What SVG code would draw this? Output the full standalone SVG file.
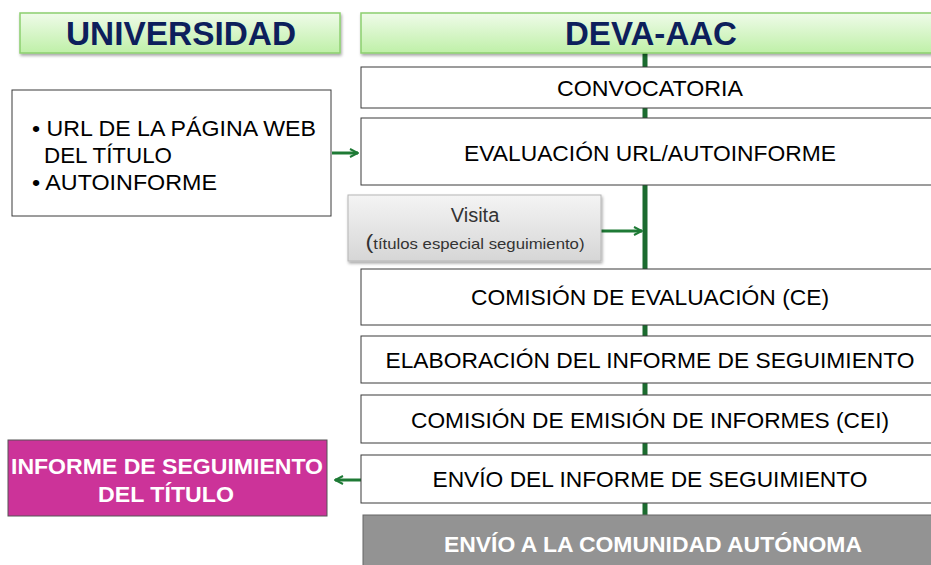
<svg xmlns="http://www.w3.org/2000/svg" width="931" height="565" viewBox="0 0 931 565">
<defs>
<linearGradient id="gHead" x1="0" y1="0" x2="0" y2="1">
<stop offset="0" stop-color="#effbe9"/>
<stop offset="1" stop-color="#bff0a8"/>
</linearGradient>
<linearGradient id="gGray" x1="0" y1="0" x2="0" y2="1">
<stop offset="0" stop-color="#f4f4f4"/>
<stop offset="1" stop-color="#d6d6d6"/>
</linearGradient>
<filter id="sh" x="-10%" y="-10%" width="120%" height="130%">
<feDropShadow dx="1" dy="2" stdDeviation="1.5" flood-color="#000" flood-opacity="0.35"/>
</filter>
<marker id="ah" viewBox="0 0 10 10" refX="9" refY="5" markerWidth="10" markerHeight="10" markerUnits="userSpaceOnUse" orient="auto">
<path d="M1,1 L9,5 L1,9" fill="none" stroke="#1e7a35" stroke-width="2"/>
</marker>
<style>
.box{fill:#fff;stroke:#3a3a3a;stroke-width:1}
.head{fill:url(#gHead);stroke:#8ccf6f;stroke-width:1.5}
.t{font-family:"Liberation Sans",Arial,sans-serif;font-size:22px;fill:#000;text-anchor:middle}
.h{font-family:"Liberation Sans",Arial,sans-serif;font-size:34px;font-weight:bold;fill:#0d1f5c;text-anchor:middle}
.w{font-family:"Liberation Sans",Arial,sans-serif;font-size:22px;font-weight:bold;fill:#fff;text-anchor:middle}
.l{font-family:"Liberation Sans",Arial,sans-serif;font-size:22px;fill:#000}
.conn{stroke:#1e7a35;stroke-width:3;fill:none}
.spine{stroke:#1b6b2f;stroke-width:5;fill:none}
</style>
</defs>
<g id="connectors">
<line class="spine" x1="645" y1="53" x2="645" y2="516"/>
<line class="conn" x1="332" y1="153" x2="358" y2="153" marker-end="url(#ah)"/>
<line class="conn" x1="601" y1="231" x2="642" y2="231" marker-end="url(#ah)"/>
<line class="conn" x1="361" y1="480" x2="335" y2="480" marker-end="url(#ah)"/>
</g>
<g id="universidad">
<rect class="head" x="20" y="13" width="320" height="40" filter="url(#sh)"/>
<text class="h" x="181" y="45" textLength="230" lengthAdjust="spacingAndGlyphs">UNIVERSIDAD</text>
</g>
<g id="deva">
<rect class="head" x="361" y="13" width="575" height="40" filter="url(#sh)"/>
<text class="h" x="651" y="45" textLength="172" lengthAdjust="spacingAndGlyphs">DEVA-AAC</text>
</g>
<g id="convocatoria">
<rect class="box" x="361" y="67" width="575" height="41"/>
<text class="t" x="650" y="96" textLength="186" lengthAdjust="spacingAndGlyphs">CONVOCATORIA</text>
</g>
<g id="evaluacion">
<rect class="box" x="361" y="118" width="575" height="67"/>
<text class="t" x="650" y="161" textLength="372" lengthAdjust="spacingAndGlyphs">EVALUACIÓN URL/AUTOINFORME</text>
</g>
<g id="universidad-docs">
<rect class="box" x="12" y="90" width="319" height="126"/>
<text class="l" x="32" y="136" textLength="284" lengthAdjust="spacingAndGlyphs">• URL DE LA PÁGINA WEB</text>
<text class="l" x="44" y="163" textLength="128" lengthAdjust="spacingAndGlyphs">DEL TÍTULO</text>
<text class="l" x="32" y="190" textLength="185" lengthAdjust="spacingAndGlyphs">• AUTOINFORME</text>
</g>
<g id="visita">
<rect x="348" y="195" width="253" height="66" fill="url(#gGray)" stroke="#b5b5b5" stroke-width="1" filter="url(#sh)"/>
<text x="475" y="222" font-family="'Liberation Sans',Arial,sans-serif" font-size="20" fill="#333" text-anchor="middle">Visita</text>
<text x="475" y="249" font-family="'Liberation Sans',Arial,sans-serif" font-size="15" fill="#333" text-anchor="middle" textLength="219" lengthAdjust="spacingAndGlyphs"><tspan font-size="21">(</tspan>títulos especial seguimiento)</text>
</g>
<g id="comision-ce">
<rect class="box" x="361" y="269" width="575" height="56"/>
<text class="t" x="650" y="305" textLength="358" lengthAdjust="spacingAndGlyphs">COMISIÓN DE EVALUACIÓN (CE)</text>
</g>
<g id="elaboracion">
<rect class="box" x="361" y="336" width="575" height="47"/>
<text class="t" x="650" y="368" textLength="529" lengthAdjust="spacingAndGlyphs">ELABORACIÓN DEL INFORME DE SEGUIMIENTO</text>
</g>
<g id="comision-cei">
<rect class="box" x="361" y="395" width="575" height="48"/>
<text class="t" x="650" y="428" textLength="478" lengthAdjust="spacingAndGlyphs">COMISIÓN DE EMISIÓN DE INFORMES (CEI)</text>
</g>
<g id="envio-informe">
<rect class="box" x="361" y="455" width="575" height="48"/>
<text class="t" x="650" y="487" textLength="435" lengthAdjust="spacingAndGlyphs">ENVÍO DEL INFORME DE SEGUIMIENTO</text>
</g>
<g id="informe-titulo">
<rect x="8" y="440" width="319" height="76" fill="#cc3399" stroke="#555" stroke-width="1"/>
<text class="w" x="167" y="474" textLength="312" lengthAdjust="spacingAndGlyphs">INFORME DE SEGUIMIENTO</text>
<text class="w" x="166" y="502" textLength="136" lengthAdjust="spacingAndGlyphs">DEL TÍTULO</text>
</g>
<g id="envio-ca">
<rect x="363" y="515" width="575" height="55" fill="#939393" stroke="#666" stroke-width="1"/>
<text class="w" x="653" y="552" textLength="418" lengthAdjust="spacingAndGlyphs">ENVÍO A LA COMUNIDAD AUTÓNOMA</text>
</g>
</svg>
